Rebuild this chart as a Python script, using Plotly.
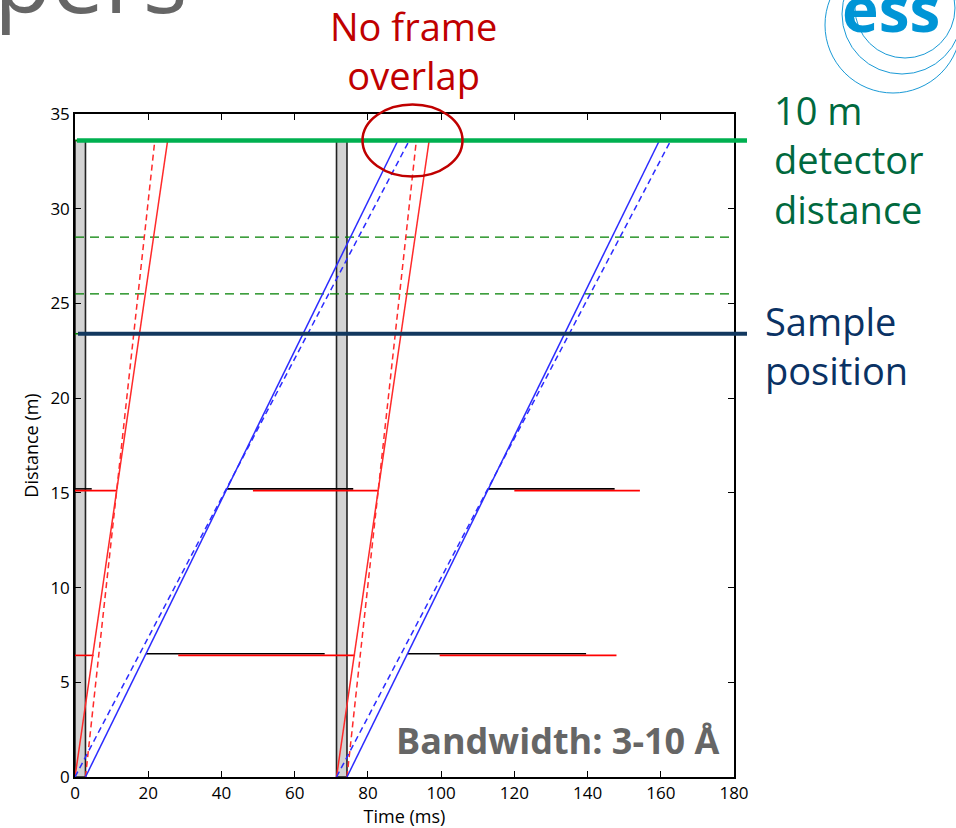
import plotly.graph_objects as go

# ---------------- data ----------------
frame_starts = [0.0, 71.43]          # ms, pulse start of each frame
pulse_length = 2.86                  # ms
detector_pos = 33.6                  # m
sample_pos = 23.4                    # m
guide_marks = [25.5, 28.5]           # m, green dashed lines
chopper_pos = [6.45, 15.15]          # m

# neutron rays: start offset (ms, from frame start) and arrival offset at detector
red_solid = (0.0, 25.3)
red_dash = (2.86, 21.8)
blue_solid = (2.86, 88.2)
blue_dash = (0.0, 91.3)

# chopper closed segments (ms)
black_6 = [(19.4, 68.2), (90.8, 139.6)]
red_6 = [(0.0, 5.07), (28.2, 76.5), (99.6, 147.9)]
black_15 = [(0.0, 4.57), (41.4, 76.0), (112.8, 147.4)]
red_15 = [(0.0, 11.47), (48.6, 82.9), (120.0, 154.3)]

x_ticks = [0, 20, 40, 60, 80, 100, 120, 140, 160, 180]
y_ticks = [0, 5, 10, 15, 20, 25, 30, 35]

# ---------------- figure ----------------
W, H = 956, 828
L, R, T, B = 75, 222, 114, 51
PW, PH = W - L - R, H - T - B


def px2paper_x(px):
    return (px - L) / PW


def px2paper_y(py):
    return (H - B - py) / PH


fig = go.Figure()
FONT = "Open Sans"

# pulses (grey boxes)
for t0 in frame_starts:
    fig.add_trace(go.Scatter(
        x=[t0, t0 + pulse_length, t0 + pulse_length, t0, t0],
        y=[0, 0, detector_pos, detector_pos, 0],
        mode="lines", fill="toself", fillcolor="#d3d3d3",
        line=dict(color="#222222", width=1.6), hoverinfo="skip", showlegend=False))

# green dashed reference lines
for yv in guide_marks + [sample_pos, detector_pos]:
    fig.add_trace(go.Scatter(x=[0, 180], y=[yv, yv], mode="lines",
                             line=dict(color="#008000", width=1.3, dash="9px,6px"),
                             hoverinfo="skip", showlegend=False))


def segs(list_, yv):
    xs, ys = [], []
    for a, b in list_:
        xs += [a, b, None]
        ys += [yv, yv, None]
    return xs, ys


# chopper lines
for sl, yv, col, dy in [(black_6, chopper_pos[0], "black", 0.06),
                        (black_15, chopper_pos[1], "black", 0.06),
                        (red_6, chopper_pos[0], "#ff0000", -0.03),
                        (red_15, chopper_pos[1], "#ff0000", -0.03)]:
    xs, ys = segs(sl, yv + dy)
    fig.add_trace(go.Scatter(x=xs, y=ys, mode="lines",
                             line=dict(color=col, width=1.6),
                             hoverinfo="skip", showlegend=False))


def rays(spec):
    xs, ys = [], []
    for t0 in frame_starts:
        xs += [t0 + spec[0], t0 + spec[1], None]
        ys += [0, detector_pos, None]
    return xs, ys


for spec, col, dash in [(red_solid, "#ff2a2a", "solid"), (red_dash, "#ff2a2a", "6px,4px"),
                        (blue_solid, "#2b2bff", "solid"), (blue_dash, "#2b2bff", "6px,4px")]:
    xs, ys = rays(spec)
    fig.add_trace(go.Scatter(x=xs, y=ys, mode="lines",
                             line=dict(color=col, width=1.5, dash=dash),
                             hoverinfo="skip", showlegend=False))

shapes = []
# thick overlay lines (detector, sample)
shapes.append(dict(type="line", xref="paper", yref="y", x0=px2paper_x(77), x1=px2paper_x(747),
                   y0=detector_pos, y1=detector_pos, line=dict(color="#00b050", width=4.5), layer="above"))
shapes.append(dict(type="line", xref="paper", yref="y", x0=px2paper_x(78), x1=px2paper_x(747),
                   y0=sample_pos, y1=sample_pos, line=dict(color="#12385f", width=4), layer="above"))
# red ellipse
shapes.append(dict(type="circle", xref="paper", yref="paper",
                   x0=px2paper_x(362.5), x1=px2paper_x(462.5),
                   y0=px2paper_y(176.5), y1=px2paper_y(104.5),
                   line=dict(color="#c00000", width=2.5), layer="above"))
# ESS logo rings
for cx, cy, r in [(893, 25, 68), (902, 14, 60), (905, 8, 50)]:
    shapes.append(dict(type="circle", xref="paper", yref="paper",
                       x0=px2paper_x(cx - r), x1=px2paper_x(cx + r),
                       y0=px2paper_y(cy + r), y1=px2paper_y(cy - r),
                       line=dict(color="#1a9ad6", width=1), layer="above"))

annotations = [
    dict(text="No frame<br>overlap", x=px2paper_x(413), y=px2paper_y(51), xref="paper", yref="paper",
         xanchor="center", yanchor="middle", showarrow=False,
         font=dict(family=FONT, size=38, color="#c00000")),
    dict(text="10 m<br>detector<br>distance", x=px2paper_x(772), y=px2paper_y(159), xref="paper", yref="paper",
         xanchor="left", yanchor="middle", align="left", showarrow=False,
         font=dict(family=FONT, size=38, color="#00693e")),
    dict(text="Sample<br>position", x=px2paper_x(763), y=px2paper_y(345), xref="paper", yref="paper",
         xanchor="left", yanchor="middle", align="left", showarrow=False,
         font=dict(family=FONT, size=38, color="#0a3264")),
    dict(text="<b>Bandwidth: 3-10 Å</b>", x=px2paper_x(722), y=px2paper_y(740), xref="paper", yref="paper",
         xanchor="right", yanchor="middle", showarrow=False,
         font=dict(family=FONT, size=36, color="#666666")),
    dict(text="pers", x=px2paper_x(-8), y=px2paper_y(43), xref="paper", yref="paper",
         xanchor="left", yanchor="bottom", showarrow=False,
         font=dict(family=FONT, size=94, color="#666666")),
    dict(text="<b>ess</b>", x=px2paper_x(891), y=px2paper_y(52), xref="paper", yref="paper",
         xanchor="center", yanchor="bottom", showarrow=False,
         font=dict(family=FONT, size=62, color="#0095d6")),
]

axis_common = dict(showgrid=False, zeroline=False, ticks="inside", ticklen=6, tickwidth=1,
                   tickcolor="black", showline=True, linecolor="black", linewidth=1.5,
                   mirror="ticks", automargin=False,
                   tickfont=dict(family=FONT, size=17, color="black"))

fig.update_layout(
    width=W, height=H, margin=dict(l=L, r=R, t=T, b=B, pad=0, autoexpand=False),
    paper_bgcolor="white", plot_bgcolor="white", showlegend=False,
    shapes=shapes, annotations=annotations,
    xaxis=dict(range=[0, 180], tickvals=x_ticks, **axis_common,
               title=dict(text="Time (ms)", font=dict(family=FONT, size=18, color="black"), standoff=2)),
    yaxis=dict(range=[0, 35], tickvals=y_ticks, **axis_common,
               title=dict(text="Distance (m)", font=dict(family=FONT, size=18, color="black"), standoff=7)),
)

fig.write_html("out.html")
